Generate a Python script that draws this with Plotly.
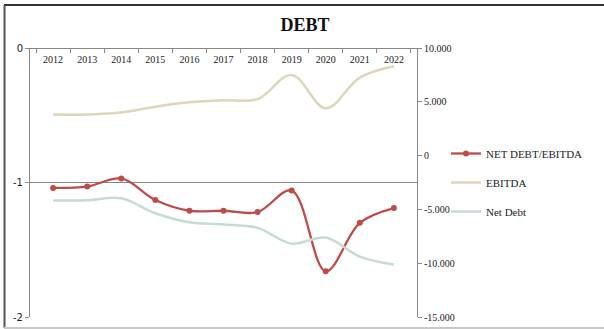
import plotly.graph_objects as go

years = ["2012", "2013", "2014", "2015", "2016", "2017", "2018", "2019", "2020", "2021", "2022"]
net_debt_ebitda = [-1.04, -1.03, -0.97, -1.13, -1.21, -1.21, -1.22, -1.06, -1.66, -1.30, -1.19]
ebitda = [3810, 3820, 4000, 4550, 4950, 5150, 5250, 7500, 4400, 7250, 8300]
net_debt = [-4180, -4150, -3970, -5360, -6200, -6400, -6720, -8180, -7620, -9390, -10130]

right_ticks = [10000, 5000, 0, -5000, -10000, -15000]
right_labels = ["10.000", "5.000", "0", "-5.000", "-10.000", "-15.000"]
left_ticks = [0, -1, -2]
left_labels = ["0", "-1", "-2"]

RED = "#BE4B48"
BEIGE = "#DDD6BC"
GREEN = "#C6DBD1"
SERIF = "Liberation Serif, Times New Roman, serif"

fig = go.Figure()
fig.add_trace(go.Scatter(
    x=years, y=ebitda, name="EBITDA", yaxis="y2", mode="lines",
    line=dict(color=BEIGE, width=2.5, shape="spline"), legendrank=2, legendgroup="b"))
fig.add_trace(go.Scatter(
    x=years, y=net_debt, name="Net Debt", yaxis="y2", mode="lines",
    line=dict(color=GREEN, width=2.5, shape="spline"), legendrank=3, legendgroup="c"))
fig.add_trace(go.Scatter(
    x=years, y=net_debt_ebitda, name="NET DEBT/EBITDA", mode="lines+markers",
    line=dict(color=RED, width=2.3, shape="spline"),
    marker=dict(color=RED, size=6), legendrank=1, legendgroup="a"))

fig.update_layout(
    width=604, height=329,
    margin=dict(l=30, r=187, t=48, b=12, autoexpand=False),
    paper_bgcolor="white", plot_bgcolor="white",
    showlegend=True,
    title=dict(text="<b>DEBT</b>", x=0.505, xref="container", xanchor="center",
               y=1 - 25 / 329, yref="container", yanchor="middle",
               font=dict(family=SERIF, size=18, color="#111111")),
    xaxis=dict(
        type="category", side="bottom", anchor="free", position=1,
        tickson="boundaries",
        ticks="outside", ticklen=4, tickcolor="#888888",
        ticklabelstandoff=2,
        showline=True, linecolor="#888888", linewidth=1, mirror=True,
        showgrid=False, zeroline=False,
        tickfont=dict(family=SERIF, size=10, color="#222222"),
    ),
    yaxis=dict(
        range=[-2, 0], tickvals=left_ticks, ticktext=left_labels,
        ticks="outside", ticklen=4, tickcolor="#888888",
        showline=True, linecolor="#888888", linewidth=1,
        showgrid=True, gridcolor="#888888", gridwidth=1, zeroline=False,
        tickfont=dict(family="DejaVu Sans, sans-serif", size=10, color="#222222"),
    ),
    yaxis2=dict(
        range=[-15000, 10000], overlaying="y", side="right",
        tickvals=right_ticks, ticktext=right_labels,
        ticks="outside", ticklen=4, tickcolor="#888888",
        showline=True, linecolor="#888888", linewidth=1,
        showgrid=False, zeroline=False,
        tickfont=dict(family=SERIF, size=10, color="#222222"),
    ),
    legend=dict(
        xref="container", yref="container",
        x=446 / 604, xanchor="left", y=1 - 139 / 329, yanchor="top",
        traceorder="grouped", tracegroupgap=10,
        font=dict(family=SERIF, size=11, color="#222222"),
        bgcolor="rgba(0,0,0,0)",
    ),
    shapes=[
        dict(type="line", xref="paper", yref="paper",
             x0=(4 - 30) / 387, x1=(610 - 30) / 387, y0=(317 - 5) / 269, y1=(317 - 5) / 269,
             line=dict(color="#333333", width=2)),
        dict(type="line", xref="paper", yref="paper",
             x0=(4.5 - 30) / 387, x1=(4.5 - 30) / 387, y0=(317 - 5) / 269, y1=(317 - 328) / 269,
             line=dict(color="#555555", width=2)),
        dict(type="line", xref="paper", yref="paper",
             x0=(4 - 30) / 387, x1=(610 - 30) / 387, y0=(317 - 328) / 269, y1=(317 - 328) / 269,
             line=dict(color="#C8C8C8", width=2)),
    ],
)

fig.write_html("out.html")
